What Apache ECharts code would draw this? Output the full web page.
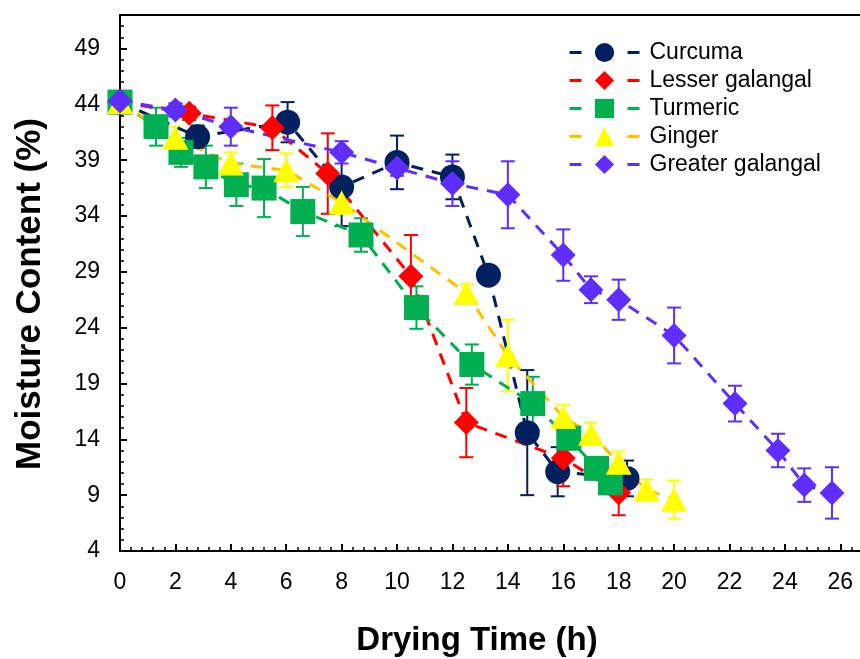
<!DOCTYPE html>
<html>
<head>
<meta charset="utf-8">
<script src="https://cdn.jsdelivr.net/npm/echarts@6/dist/echarts.min.js"></script>
<style>html,body{margin:0;padding:0;background:#fff}#c{width:860px;height:659px}</style>
</head>
<body>
<div id="c"></div>
<script>
const seriesNames = ['Curcuma', 'Lesser galangal', 'Turmeric', 'Ginger', 'Greater galangal'];

const curcumaTime = [0, 2.8, 6.05, 8, 10, 12, 13.3, 14.7, 15.8, 18.3];
const curcumaMC   = [44.2, 41.1, 42.4, 36.6, 38.8, 37.5, 28.7, 14.6, 11.1, 10.5];
const curcumaErr  = [0.5, 1.0, 1.8, 3.5, 2.4, 2.0, 0.8, 5.6, 2.2, 1.6];

const lesserTime = [0, 2.5, 5.5, 7.5, 10.5, 12.5, 16, 18];
const lesserMC   = [44.2, 43.2, 41.9, 37.8, 28.6, 15.5, 12.3, 9.2];
const lesserErr  = [0.5, 0.6, 2.0, 3.6, 3.7, 3.1, 2.5, 2.0];

const turmericTime = [0, 1.3, 2.2, 3.1, 4.2, 5.2, 6.6, 8.7, 10.7, 12.7, 14.9, 16.2, 17.2, 17.7];
const turmericMC   = [44.2, 42.0, 39.7, 38.4, 36.8, 36.5, 34.4, 32.3, 25.8, 20.7, 17.2, 14.1, 11.4, 10.1];
const turmericErr  = [0.5, 1.7, 1.3, 1.9, 1.9, 2.6, 2.2, 1.5, 1.9, 1.8, 2.4, 1.0, 1.0, 1.0];

const gingerTime = [0, 2, 4, 6, 8, 12.5, 14, 16, 17, 18, 19, 20];
const gingerMC   = [44.2, 41.0, 38.7, 38.1, 35.2, 27.1, 21.5, 16.0, 14.5, 11.9, 9.5, 8.6];
const gingerErr  = [0.5, 1.0, 1.0, 1.5, 1.0, 0.8, 3.2, 1.1, 1.0, 1.0, 0.9, 1.7];

const greaterTime = [0, 2, 4, 8, 10, 12, 14, 16, 17, 18, 20, 22.2, 23.75, 24.7, 25.7];
const greaterMC   = [44.3, 43.5, 42.0, 39.7, 38.3, 36.9, 35.9, 30.5, 27.4, 26.5, 23.3, 17.2, 13.0, 9.9, 9.2];
const greaterErr  = [0.5, 0.6, 1.7, 1.0, 0.7, 2.0, 3.0, 2.3, 1.2, 1.8, 2.5, 1.6, 1.5, 1.5, 2.3];

const xTickLabels = ['0','2','4','6','8','10','12','14','16','18','20','22','24','26'];
const yTickLabels = ['4','9','14','19','24','29','34','39','44','49'];

const styles = [
  {symbol: 'circle', marker: '#002060', line: '#002060', err: '#002060'},
  {symbol: 'diamond', marker: '#ff0000', line: '#ff0000', err: '#ff0000'},
  {symbol: 'rect', marker: '#00b050', line: '#00b050', err: '#00b050'},
  {symbol: 'triangle', marker: '#ffff00', line: '#ffc000', err: '#ffff00'},
  {symbol: 'diamond', marker: '#5f2eff', line: '#5f2eff', err: '#5f2eff'}
];
const allData = [
  [curcumaTime, curcumaMC, curcumaErr],
  [lesserTime, lesserMC, lesserErr],
  [turmericTime, turmericMC, turmericErr],
  [gingerTime, gingerMC, gingerErr],
  [greaterTime, greaterMC, greaterErr]
];

const FONT = '"Liberation Sans", Arial, sans-serif';
const series = [];
allData.forEach(function (d, i) {
  const st = styles[i];
  const pts = d[0].map(function (t, k) { return [t, d[1][k]]; });
  const errPts = d[0].map(function (t, k) { return [t, d[1][k], d[2][k]]; });
  series.push({
    type: 'custom',
    name: seriesNames[i] + ' error',
    data: errPts,
    encode: {x: 0, y: 1},
    silent: true,
    renderItem: function (params, api) {
      const t = api.value(0), v = api.value(1), e = api.value(2);
      const top = api.coord([t, v + e]);
      const bot = api.coord([t, v - e]);
      const hw = 7;
      const ls = {stroke: st.err, lineWidth: 2};
      return {
        type: 'group',
        children: [
          {type: 'line', shape: {x1: top[0], y1: top[1], x2: bot[0], y2: bot[1]}, style: ls},
          {type: 'line', shape: {x1: top[0] - hw, y1: top[1], x2: top[0] + hw, y2: top[1]}, style: ls},
          {type: 'line', shape: {x1: bot[0] - hw, y1: bot[1], x2: bot[0] + hw, y2: bot[1]}, style: ls}
        ]
      };
    }
  });
  series.push({
    type: 'line',
    name: seriesNames[i],
    data: pts,
    symbol: st.symbol,
    symbolSize: st.symbol === 'triangle' ? [26, 24] : 25,
    showAllSymbol: true,
    itemStyle: {color: st.marker, opacity: 1},
    lineStyle: {color: st.line, width: 3, type: [12, 9]},
    emphasis: {disabled: true},
    animation: false
  });
});

const chart = echarts.init(document.getElementById('c'), null, {renderer: 'canvas'});
chart.setOption({
  animation: false,
  backgroundColor: '#ffffff',
  grid: {left: 120, top: 15, width: 748, height: 536, outerBoundsMode: 'none', containLabel: false,
         show: true, borderColor: '#000', borderWidth: 2, backgroundColor: 'transparent'},
  xAxis: {
    type: 'value', min: 0, max: 27, interval: 2,
    axisLine: {show: true, onZero: false, lineStyle: {color: '#000', width: 2}},
    axisTick: {show: true, inside: true, length: 7, lineStyle: {color: '#000', width: 2}},
    minorTick: {show: true, splitNumber: 5, length: 4, lineStyle: {color: '#000', width: 1.5}},
    splitLine: {show: false},
    axisLabel: {
      showMaxLabel: false, margin: 20, color: '#000', fontSize: 23, fontFamily: FONT,
      formatter: function (v) { const s = String(v); return xTickLabels.indexOf(s) >= 0 ? s : ''; }
    }
  },
  yAxis: {
    type: 'value', min: 4, max: 52, interval: 5,
    axisLine: {show: true, onZero: false, lineStyle: {color: '#000', width: 2}},
    axisTick: {show: true, inside: true, length: 7, lineStyle: {color: '#000', width: 2}},
    minorTick: {show: true, splitNumber: 5, length: 4, lineStyle: {color: '#000', width: 1.5}},
    splitLine: {show: false},
    axisLabel: {
      showMaxLabel: false, margin: 20, color: '#000', fontSize: 23, fontFamily: FONT,
      formatter: function (v) { const s = String(v); return yTickLabels.indexOf(s) >= 0 ? s : ''; }
    }
  },
  legend: {
    data: seriesNames,
    orient: 'vertical',
    left: 563, top: 36,
    itemWidth: 70, itemHeight: 24, itemGap: 5,
    lineStyle: {type: [12, 46], width: 3},
    textStyle: {color: '#000', fontSize: 23, fontFamily: FONT, padding: [0, 0, 0, 5]},
    selectedMode: false
  },
  graphic: [
    {type: 'text', x: 477, y: 641, style: {text: 'Drying Time (h)', font: 'bold 33px ' + FONT, fill: '#000', textAlign: 'center', textVerticalAlign: 'middle'}},
    {type: 'text', x: 30, y: 294, rotation: Math.PI / 2, style: {text: 'Moisture Content (%)', font: 'bold 35px ' + FONT, fill: '#000', textAlign: 'center', textVerticalAlign: 'middle'}}
  ],
  series: series
});
</script>
</body>
</html>
